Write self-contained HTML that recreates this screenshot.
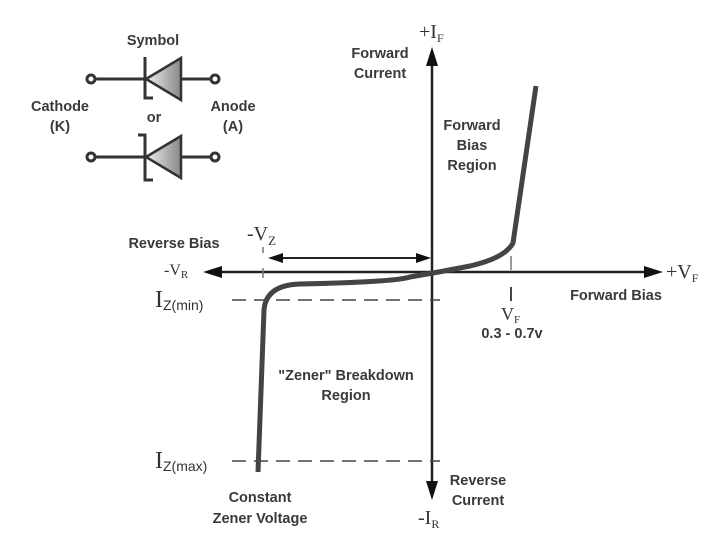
<!DOCTYPE html>
<html><head><style>
body{margin:0;background:#fff}
svg text{font-family:"Liberation Sans",Arial,sans-serif;font-weight:bold;fill:#3a3a3a;font-size:14.5px}
svg text.s{font-family:"Liberation Serif",serif;font-weight:normal;fill:#333}
</style></head><body>
<svg width="718" height="551" viewBox="0 0 718 551" xmlns="http://www.w3.org/2000/svg">
<defs><linearGradient id="g" x1="0" x2="1"><stop offset="0" stop-color="#eee"/><stop offset="1" stop-color="#888"/></linearGradient></defs>
<g stroke="#333" stroke-width="3" fill="none">
<circle cx="91" cy="79" r="4" fill="#fff"/><line x1="95" y1="79" x2="146" y2="79"/>
<path d="M145 57 V98 H153"/>
<line x1="181" y1="79" x2="211" y2="79"/><circle cx="215" cy="79" r="4" fill="#fff"/>
<circle cx="91" cy="157" r="4" fill="#fff"/><line x1="95" y1="157" x2="146" y2="157"/>
<path d="M138 135 H145 V180 H153"/>
<line x1="181" y1="157" x2="211" y2="157"/><circle cx="215" cy="157" r="4" fill="#fff"/>
</g>
<polygon points="146,79 181,58 181,100" fill="url(#g)" stroke="#333" stroke-width="2.5"/>
<polygon points="146,157 181,136 181,178" fill="url(#g)" stroke="#333" stroke-width="2.5"/>
<text x="153" y="45" text-anchor="middle">Symbol</text>
<text x="60" y="111" text-anchor="middle">Cathode</text>
<text x="60" y="131" text-anchor="middle">(K)</text>
<text x="154" y="122" text-anchor="middle">or</text>
<text x="233" y="111" text-anchor="middle">Anode</text>
<text x="233" y="131" text-anchor="middle">(A)</text>
<g stroke="#222" stroke-width="2.5">
<line x1="215" y1="272" x2="650" y2="272"/>
<line x1="432" y1="60" x2="432" y2="488"/>
<line x1="280" y1="258" x2="420" y2="258" stroke-width="2"/>
</g>
<polygon points="203,272 222,266 222,278" fill="#111"/>
<polygon points="663,272 644,266 644,278" fill="#111"/>
<polygon points="432,47 426,66 438,66" fill="#111"/>
<polygon points="432,500 426,481 438,481" fill="#111"/>
<polygon points="268,258 283,253 283,263" fill="#111"/>
<polygon points="431,258 416,253 416,263" fill="#111"/>
<g stroke="#444" stroke-width="1.5" stroke-dasharray="14,8" fill="none">
<line x1="232" y1="300" x2="440" y2="300"/>
<line x1="232" y1="461" x2="440" y2="461"/>
</g>
<g stroke="#777" stroke-width="1.5">
<line x1="263" y1="247" x2="263" y2="253"/><line x1="263" y1="268" x2="263" y2="278"/>
<line x1="511" y1="256" x2="511" y2="270"/><line x1="511" y1="287" x2="511" y2="301" stroke="#444" stroke-width="2"/>
</g>
<path d="M536 86 L513 243 Q505 258 470 266 Q440 272 410 277 Q395 282 300 284 Q266 285 264 310 L258 472" fill="none" stroke="#444" stroke-width="5" stroke-linejoin="round"/>
<text x="380" y="58" text-anchor="middle">Forward</text>
<text x="380" y="78" text-anchor="middle">Current</text>
<text class="s" x="419" y="38" style="font-size:20px">+I<tspan style="font-size:12px" dy="4">F</tspan></text>
<text x="472" y="130" text-anchor="middle">Forward</text>
<text x="472" y="150" text-anchor="middle">Bias</text>
<text x="472" y="170" text-anchor="middle">Region</text>
<text x="174" y="248" text-anchor="middle">Reverse Bias</text>
<text class="s" x="247" y="240" style="font-size:20px">-V<tspan style="font-size:13px" dy="5">Z</tspan></text>
<text class="s" x="164" y="275" style="font-size:16px">-V<tspan style="font-size:11px" dy="3">R</tspan></text>
<text class="s" x="666" y="278" style="font-size:20px">+V<tspan style="font-size:12px" dy="4">F</tspan></text>
<text x="616" y="300" text-anchor="middle">Forward Bias</text>
<text class="s" x="501" y="320" style="font-size:18px">V<tspan style="font-size:11px" dy="3">F</tspan></text>
<text x="512" y="338" text-anchor="middle">0.3 - 0.7v</text>
<text class="s" x="155" y="307" style="font-size:24px">I<tspan style="font-size:14px;font-family:'Liberation Sans',sans-serif" dy="3">Z(min)</tspan></text>
<text class="s" x="155" y="468" style="font-size:24px">I<tspan style="font-size:14px;font-family:'Liberation Sans',sans-serif" dy="3">Z(max)</tspan></text>
<text x="346" y="380" text-anchor="middle">"Zener" Breakdown</text>
<text x="346" y="400" text-anchor="middle">Region</text>
<text x="478" y="485" text-anchor="middle">Reverse</text>
<text x="478" y="505" text-anchor="middle">Current</text>
<text class="s" x="418" y="524" style="font-size:20px">-I<tspan style="font-size:12px" dy="4">R</tspan></text>
<text x="260" y="502" text-anchor="middle">Constant</text>
<text x="260" y="523" text-anchor="middle">Zener Voltage</text>
</svg>
</body></html>
